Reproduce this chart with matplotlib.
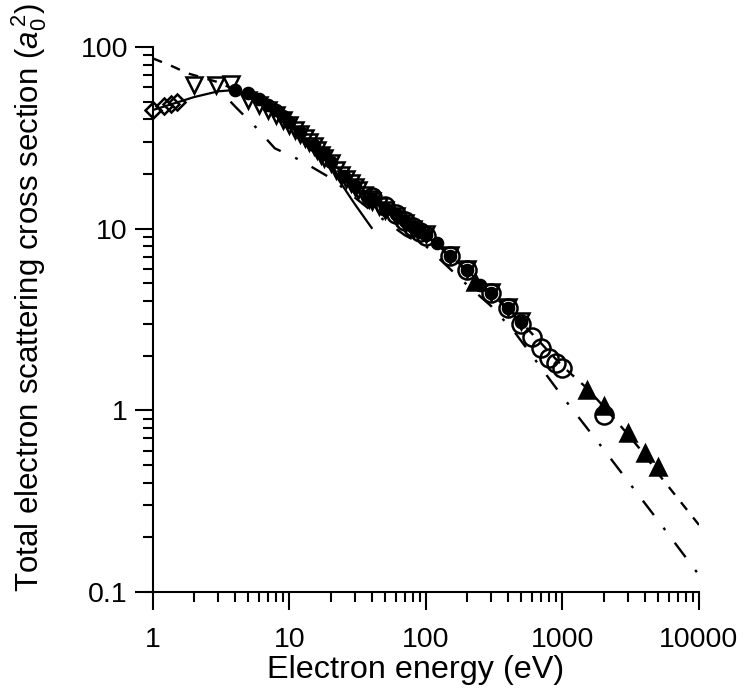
import matplotlib
matplotlib.use("Agg")
import matplotlib.pyplot as plt
from matplotlib.ticker import LogLocator, FixedLocator, FuncFormatter, NullFormatter

plt.rcParams['font.family'] = ['Liberation Sans', 'DejaVu Sans']
plt.rcParams['mathtext.fontset'] = 'custom'
plt.rcParams['mathtext.rm'] = 'Liberation Sans'
plt.rcParams['mathtext.it'] = 'Liberation Sans:italic'
plt.rcParams['lines.scale_dashes'] = False

# ---------------- Data (energy in eV, cross section in a0^2) ----------------
# open diamonds
diam_E = [1.0, 1.2, 1.35, 1.5]
diam_s = [45, 47.5, 48.5, 50]

# open down triangles
tri_E = [2.0, 2.9, 3.7, 5.0, 6.0, 7.0, 8.0, 9.0, 10, 11, 12, 13, 14, 15, 16, 17, 18,
         20, 22, 24, 26, 28, 30, 32, 35, 38, 40, 45, 50, 60, 70, 80, 100, 150, 200,
         300, 400, 500]
tri_s = [61.5, 61.5, 62.5, 51, 48, 45, 42, 39.5, 37, 35, 33, 31.5, 30, 28.5, 27, 25.5,
         24.5, 23, 21, 19.8, 18.8, 17.8, 17, 16.3, 15.4, 14.6, 14.2, 13.4, 12.6, 11.8,
         10.7, 10.0, 9.3, 7.2, 6.0, 4.5, 3.7, 3.1]

# small filled circles
dot_E = [4, 5, 6, 7, 8, 9, 10, 12, 15, 17.5, 20, 25, 30, 40, 50, 60, 70, 80, 90, 100,
         120, 150, 200, 250, 300, 400, 500]
dot_s = [57.7, 55.6, 52, 48, 45, 41.5, 38.5, 34, 29, 26, 23.2, 19.5, 17.2, 14.5, 13.0,
         12.0, 11.0, 10.2, 9.6, 9.2, 8.3, 7.1, 5.9, 4.9, 4.45, 3.64, 3.05]

# open circles
circ_E = [40, 50, 60, 70, 80, 90, 100, 150, 200, 300, 400, 500, 600, 700, 800, 900,
          1000, 2000]
circ_s = [15, 13.3, 12.1, 11.0, 10.2, 9.6, 9.1, 7.1, 5.9, 4.45, 3.64, 3.0, 2.52, 2.2,
          1.95, 1.82, 1.70, 0.94]

# filled up triangles
up_E = [230, 1500, 2000, 3000, 4000, 5000]
up_s = [5.1, 1.29, 1.05, 0.75, 0.58, 0.485]

# theory curves
solid_E = [1, 1.5, 2, 3, 4, 5, 6, 8, 10, 15, 20, 23, 30, 40]
solid_s = [45, 49.5, 53, 57, 58, 55, 51, 44, 38, 28, 22, 18.5, 13.7, 10.1]

dashdot_E = [3.7, 4, 5.7, 7.8, 12, 20, 40, 70, 100, 200, 300, 450, 1000, 2000, 5000, 10000]
dashdot_s = [50, 47, 36, 27.7, 23.8, 19, 12.5, 9.2, 8.0, 4.9, 3.75, 2.67, 1.19, 0.61,
             0.248, 0.124]

dash_E = [1, 1.35, 1.8, 3, 4, 6, 10, 20, 50, 100, 200, 500, 1000, 1500, 2000, 3000,
          4000, 5000, 10000]
dash_s = [86.5, 79, 71.6, 64, 58, 52, 38.5, 23.2, 13.0, 9.2, 5.9, 3.05, 1.75, 1.33,
          1.05, 0.74, 0.57, 0.45, 0.234]

# ---------------- Plotting ----------------
fig = plt.figure(figsize=(7.44, 6.89), dpi=100)
ax = fig.add_axes([0.2056, 0.1408, 0.7339, 0.7910])

ax.plot(solid_E, solid_s, color='black', lw=1.6)
ax.plot(dashdot_E, dashdot_s, color='black', lw=1.7, dashes=(13, 11.5, 2, 11.5))
ax.plot(dash_E, dash_s, color='black', lw=1.7, dashes=(7, 7))

mk = dict(ls='none', color='black', mew=1.8, clip_on=False)
ax.plot(circ_E, circ_s, marker='o', ms=13, mfc='none', **mk)
ax.plot(tri_E, tri_s, marker='v', ms=12, mfc='none', **mk)
ax.plot(dot_E, dot_s, marker='o', ms=8, mfc='black', **mk)
ax.plot(up_E, up_s, marker='^', ms=12, mfc='black', **mk)
ax.plot(diam_E, diam_s, marker='D', ms=8.5, mfc='none', **mk)

ax.set_xscale('log')
ax.set_yscale('log')
ax.set_xlim(1, 10000)
ax.set_ylim(0.1, 100)

ax.xaxis.set_major_locator(FixedLocator([1, 10, 100, 1000, 10000]))
ax.yaxis.set_major_locator(FixedLocator([0.1, 1, 10, 100]))
ax.xaxis.set_minor_locator(LogLocator(base=10, subs=range(2, 10)))
ax.yaxis.set_minor_locator(LogLocator(base=10, subs=range(2, 10)))
fmt = FuncFormatter(lambda v, p: '%g' % v)
ax.xaxis.set_major_formatter(fmt)
ax.yaxis.set_major_formatter(fmt)
ax.xaxis.set_minor_formatter(NullFormatter())
ax.yaxis.set_minor_formatter(NullFormatter())

ax.spines['top'].set_visible(False)
ax.spines['right'].set_visible(False)
ax.spines['left'].set_linewidth(1.5)
ax.spines['bottom'].set_linewidth(1.5)
ax.tick_params(axis='x', which='major', direction='out', length=13, width=1.5,
               labelsize=20.5, pad=12)
ax.tick_params(axis='y', which='major', direction='out', length=13, width=1.5,
               labelsize=20.5, pad=5)
ax.tick_params(which='minor', direction='out', length=7, width=1.5)

ax.set_xlabel('Electron energy (eV)', fontsize=23.3)
ax.set_ylabel('Total electron scattering cross section ($a_0^{\\,2}$)', fontsize=22.5)
ax.xaxis.set_label_coords(0.4808, -0.1165)
ax.yaxis.set_label_coords(-0.19, 0.541)

fig.savefig('out.png', dpi=100)
